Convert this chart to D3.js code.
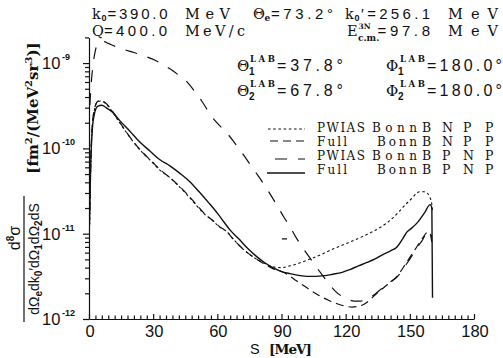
<!DOCTYPE html>
<html><head><meta charset="utf-8">
<script src="https://cdn.jsdelivr.net/npm/d3@7"></script>
<style>
html,body{margin:0;padding:0;background:#fff;}
svg{display:block;background:#fff;}
</style></head><body>
<svg id="chart" width="503" height="358"></svg>
<script>
// Eight-fold differential cross section vs. arc length S [MeV]
// pairs: [S, d8sigma in fm^2/(MeV^2 sr^3)]; null marks a break in a curve
const pwiasBNPP = [[0.3,1.26e-11],[0.8,6.3e-11],[1.5,1.78e-10],[2.5,2.8e-10],[4,3.5e-10],[5.5,3.6e-10],[7.5,3.4e-10],[10,2.9e-10],[13,2.24e-10],[16,1.74e-10],[20,1.26e-10],[25,8.9e-11],[29,7.1e-11],[33,5.6e-11],[38,4.5e-11],[42.5,3.5e-11],[46.5,2.75e-11],[50.5,2.1e-11],[54,1.7e-11],[58,1.41e-11],[61,1.2e-11],[64.5,1.05e-11],[67,8.9e-12],[70,7.4e-12],[74,6.0e-12],[78,5.1e-12],[82,4.5e-12],[86,4.1e-12],[90,4.0e-12],[94,4.2e-12],[98,4.5e-12],[102,4.9e-12],[107.8,5.6e-12],[114,6.6e-12],[121,7.8e-12],[128,9.3e-12],[136.5,1.2e-11],[141,1.45e-11],[145,1.82e-11],[148,2.2e-11],[151,2.6e-11],[153,2.95e-11],[154.7,3.1e-11],[156.5,3.1e-11],[158,3.0e-11],[159.3,2.7e-11],[160.3,2.2e-11],[160.6,1.78e-11]];
const fullBNPP = [[0.3,1.3e-11],[0.8,6.5e-11],[1.5,1.8e-10],[2.5,2.85e-10],[4,3.55e-10],[5.5,3.65e-10],[7.5,3.45e-10],[10,2.95e-10],[13,2.28e-10],[16,1.76e-10],[20,1.27e-10],[25,9.0e-11],[29,7.2e-11],[33,5.7e-11],[38,4.5e-11],[42.5,3.55e-11],[46.5,2.8e-11],[50.5,2.15e-11],[54,1.72e-11],[58,1.42e-11],[61,1.21e-11],[64.5,1.05e-11],[67,8.9e-12],[70,7.4e-12],[74,6.0e-12],[78,5.1e-12],[82,4.4e-12],[86,3.9e-12],[90,3.6e-12],[93,3.3e-12],[97,2.8e-12],[101,2.4e-12],[104,2.14e-12],[108,1.86e-12],[112,1.66e-12],[116,1.51e-12],[120,1.41e-12],[123,1.38e-12],[126,1.41e-12],[129,1.51e-12],[132,1.74e-12],[135,2.04e-12],[139.3,2.5e-12],[144,3.16e-12],[148.7,4.7e-12],[152.4,6.5e-12],[156,8.9e-12],[158.5,1.05e-11],[159.5,1.0e-11],[160.3,7.9e-12]];
const pwiasBPNP = [[0.4,3.2e-10],[1,5.6e-10],[2,1.0e-9],[3,1.41e-9],[4,1.66e-9],[5.5,1.76e-9],[7,1.78e-9],[9,1.7e-9],[12,1.58e-9],[16,1.45e-9],[21,1.33e-9],[25,1.23e-9],[29.5,1.12e-9],[34,9.8e-10],[38,8.5e-10],[42,7.2e-10],[45.3,6.2e-10],[49,4.8e-10],[53,3.5e-10],[57.5,2.34e-10],[61,1.86e-10],[64.5,1.51e-10],[68,1.17e-10],[71.5,8.9e-11],[75.3,6.5e-11],[79,4.8e-11],[82.7,3.5e-11],[85.5,2.7e-11],[88.4,2.04e-11],[91,1.58e-11],[94,1.2e-11],[96.5,9.3e-12],[99,7.4e-12],[101.5,6.0e-12],[104,4.9e-12],[106.5,4.0e-12],[109,3.3e-12],[112,2.63e-12],[115,2.14e-12],[118,1.86e-12],[121,1.7e-12],[124,1.62e-12],[127,1.62e-12],[130,1.74e-12],[133.7,1.95e-12],[137,2.3e-12],[140.7,2.7e-12],[144,3.1e-12],[146.5,3.7e-12],[148.7,4.5e-12],[151.5,5.75e-12],[154,7.2e-12],[156,8.5e-12],[158.5,1.07e-11],[159.5,1.05e-11],[160.3,8.7e-12],null,[90.2,8.7e-12],[92.6,8.7e-12]];
const fullBPNP = [[0.3,1.6e-11],[0.8,6.3e-11],[1.5,1.6e-10],[2.5,2.5e-10],[4,3.1e-10],[6,3.2e-10],[8,3.0e-10],[11,2.65e-10],[14.5,2.1e-10],[19,1.6e-10],[24,1.17e-10],[28.5,9.3e-11],[33,7.4e-11],[38,6.2e-11],[42.5,5.1e-11],[47,4.1e-11],[52,3.0e-11],[56,2.3e-11],[60,1.74e-11],[63,1.38e-11],[66,1.1e-11],[70,8.7e-12],[74,6.8e-12],[78,5.5e-12],[82,4.6e-12],[86,4.0e-12],[90,3.6e-12],[94,3.4e-12],[98,3.25e-12],[102,3.16e-12],[106,3.16e-12],[110,3.22e-12],[114,3.35e-12],[118,3.5e-12],[122,3.8e-12],[126,4.2e-12],[130,4.6e-12],[134,5.1e-12],[138,5.8e-12],[141,6.3e-12],[144,7.0e-12],[146.5,8.6e-12],[148.7,1.05e-11],[151,1.17e-11],[153.3,1.33e-11],[157,1.78e-11],[159.5,2.19e-11],[160.3,2.0e-11],[160.6,1.78e-12]];

const xTickLabels = [0, 30, 60, 90, 120, 150, 180];
const yDecades = [1e-12, 1e-11, 1e-10, 1e-9];
const yExponents = ["-12", "-11", "-10", "-9"];
const legendModels = ["PWIAS", "Full", "PWIAS", "Full"];
const legendPotentials = ["Bonn", "Bonn", "Bonn", "Bonn"];
const legendOrders = [["B","N","P","P"], ["B","N","P","P"], ["B","P","N","P"], ["B","P","N","P"]];

const INK = "#111";
const SERIF = "DejaVu Serif", NUM = "Liberation Sans";
const svg = d3.select("#chart");
const x = d3.scaleLinear().domain([0, 180]).range([89, 474]);
const y = d3.scaleLog().domain([1e-12, 2e-9]).range([319, 37.4]);

const series = [
  {data: pwiasBNPP, dash: "2.6,2.6", w: 1.1},
  {data: fullBNPP,  dash: "8,5",     w: 1.2},
  {data: pwiasBPNP, dash: "12,11",   w: 1.2},
  {data: fullBPNP,  dash: null,      w: 1.4}
];

// axes
const xMinor = d3.range(0, 181, 3);
const gx = svg.append("g").attr("transform", "translate(0,319)")
  .call(d3.axisBottom(x).tickValues(xMinor).tickSize(-3.5).tickSizeOuter(0).tickFormat(""));
gx.selectAll(".tick line").attr("y2", d => d % 30 === 0 ? -5 : -3.5);

const yMinor = [];
yDecades.slice(0, 3).forEach(d => d3.range(1, 10).forEach(k => yMinor.push(k * d)));
yMinor.push(1e-9, 2e-9);
const gy = svg.append("g").attr("transform", "translate(89,0)")
  .call(d3.axisLeft(y).tickValues(yMinor).tickSize(4).tickSizeOuter(0).tickFormat(""));
gy.selectAll(".tick line").attr("x2", d => yDecades.includes(d) ? -6 : -4);

svg.selectAll(".domain, .tick line").attr("stroke", INK).attr("stroke-width", 1.2);

// x tick labels
svg.append("g").selectAll("text").data(xTickLabels).join("text")
  .attr("x", d => x(d) + 1).attr("y", 336.5).attr("text-anchor", "middle")
  .attr("font-family", NUM).attr("font-size", 16.5).attr("fill", INK)
  .text(d => d);

// y tick labels: 10 with exponent
const yl = svg.append("g").selectAll("text").data(yDecades).join("text")
  .attr("x", 42).attr("y", d => y(d) + 6)
  .attr("font-family", NUM).attr("font-size", 16.5).attr("fill", INK);
yl.append("tspan").text("10");
yl.append("tspan").attr("x", 62).attr("dy", -9).attr("font-size", 9).attr("font-weight", "bold")
  .text((d, i) => yExponents[i]);

// curves
const line = d3.line().defined(d => d !== null)
  .x(d => x(d[0])).y(d => y(d[1])).curve(d3.curveMonotoneX);
svg.append("g").selectAll("path").data(series).join("path")
  .attr("d", s => line(s.data)).attr("fill", "none").attr("stroke", INK)
  .attr("stroke-width", s => s.w).attr("stroke-dasharray", s => s.dash)
  .attr("stroke-linejoin", "round");

// one text element made of positioned runs; off is the shift from the baseline
function rich(by, runs) {
  const t = svg.append("text").attr("y", by).attr("fill", INK);
  let cur = 0;
  runs.forEach(r => {
    const off = r.off || 0;
    const s = t.append("tspan").attr("x", r.x).attr("dy", off - cur).text(r.t)
      .attr("font-family", r.font || SERIF).attr("font-size", r.size || 14);
    if (r.len) s.attr("textLength", r.len).attr("lengthAdjust", "spacing");
    if (r.bold) s.attr("font-weight", "bold");
    cur = off;
  });
  return t;
}

// kinematics header
rich(18.5, [
  {x: 92, t: "k", size: 14.5},
  {x: 101.5, t: "0", size: 9, font: NUM, bold: 1, off: 2.5},
  {x: 107.5, t: "=390.0", font: NUM, size: 15, len: 60},
  {x: 185, t: "MeV", size: 14.5, len: 45},
  {x: 253, t: "Θ", size: 14.5},
  {x: 264.5, t: "e", size: 9, bold: 1, off: 2.5},
  {x: 271, t: "=73.2°", font: NUM, size: 15, len: 62},
  {x: 345, t: "k", size: 14.5},
  {x: 354.5, t: "0", size: 9, font: NUM, bold: 1, off: 2.5},
  {x: 361, t: "′=256.1", font: NUM, size: 15, len: 69},
  {x: 448, t: "MeV", size: 14.5, len: 50}
]);
rich(35.5, [
  {x: 92, t: "Q", size: 14.5},
  {x: 104, t: "=400.0", font: NUM, size: 15, len: 63},
  {x: 185, t: "MeV/c", size: 14.5, len: 60},
  {x: 347, t: "E", size: 14.5},
  {x: 358.5, t: "3N", size: 7.5, bold: 1, off: -6.2},
  {x: 358, t: "c.m.", size: 9, bold: 1, off: 5},
  {x: 377.5, t: "=97.8", font: NUM, size: 15, len: 52.5},
  {x: 448, t: "MeV", size: 14.5, len: 50}
]);

// detector angles
[[71, "1", "=37.8°", "=180.0°"], [96, "2", "=67.8°", "=180.0°"]].forEach(([by, k, th, ph]) => {
  rich(by, [
    {x: 237, t: "Θ", size: 15},
    {x: 249, t: k, size: 10, font: NUM, bold: 1, off: 4},
    {x: 250, t: "LAB", size: 8.5, bold: 1, len: 25, off: -9.5},
    {x: 277, t: th, font: NUM, size: 16, len: 66},
    {x: 386, t: "Φ", size: 15},
    {x: 398, t: k, size: 10, font: NUM, bold: 1, off: 4},
    {x: 400, t: "LAB", size: 8.5, bold: 1, len: 25, off: -9.5},
    {x: 427, t: ph, font: NUM, size: 16, len: 75}
  ]);
});

// legend
const legY = [132, 146, 160, 174];
const sampleY = [129, 141, 159, 173];
const sampleX0 = [268, 270, 275, 267];
series.forEach((s, i) => {
  svg.append("line").attr("x1", sampleX0[i]).attr("x2", 305)
    .attr("y1", sampleY[i]).attr("y2", sampleY[i])
    .attr("stroke", INK).attr("stroke-width", s.w).attr("stroke-dasharray", s.dash);
  const full = legendModels[i] === "Full";
  rich(legY[i], [
    {x: 317, t: legendModels[i], size: 12, len: full ? 30 : 48},
    {x: full ? 377 : 372, t: legendPotentials[i], size: 12, len: full ? 40 : 45},
    ...[422, 442, 463, 485].map((lx, j) => ({x: lx, t: legendOrders[i][j], size: 12.5}))
  ]);
});

// x axis title
rich(353.5, [
  {x: 250, t: "S", font: NUM, size: 14.5},
  {x: 269, t: "[MeV]", size: 13.5, bold: 1, len: 43}
]);

// y axis title: fraction and units, rotated
const num = svg.append("text").attr("transform", "translate(20,238) rotate(-90)")
  .attr("text-anchor", "middle").attr("font-family", NUM).attr("font-size", 16).attr("fill", INK);
num.append("tspan").text("d");
num.append("tspan").attr("dy", -6).attr("font-size", 10).attr("font-weight", "bold").text("8");
num.append("tspan").attr("dy", 6).text("σ");
svg.append("line").attr("x1", 24).attr("x2", 24).attr("y1", 196).attr("y2", 322)
  .attr("stroke", INK).attr("stroke-width", 1.2);
const den = svg.append("text").attr("transform", "translate(39,259) rotate(-90)")
  .attr("text-anchor", "middle").attr("font-family", NUM).attr("font-size", 14).attr("fill", INK);
[["dΩ", 0], ["e", 1], ["dk", 0], ["0", 1], ["′dΩ", 0], ["1", 1], ["dΩ", 0], ["2", 1], ["dS", 0]]
  .reduce((prev, [t, sub]) => {
    den.append("tspan").attr("dy", sub ? 3 : (prev ? -3 : 0))
      .attr("font-size", sub ? 10 : 14).attr("font-weight", sub ? "bold" : null).text(t);
    return sub;
  }, 0);
const units = svg.append("text").attr("transform", "translate(38,108) rotate(-90)")
  .attr("text-anchor", "middle").attr("font-family", SERIF).attr("font-size", 15)
  .attr("font-weight", "bold").attr("fill", INK);
[["[fm", 0], ["2", 1], ["/(MeV", 0], ["2", 1], ["sr", 0], ["3", 1], [")]", 0]]
  .reduce((prev, [t, sup]) => {
    units.append("tspan").attr("dy", sup ? -6 : (prev ? 6 : 0))
      .attr("font-size", sup ? 10 : 15).text(t);
    return sup;
  }, 0);
</script>
</body></html>
